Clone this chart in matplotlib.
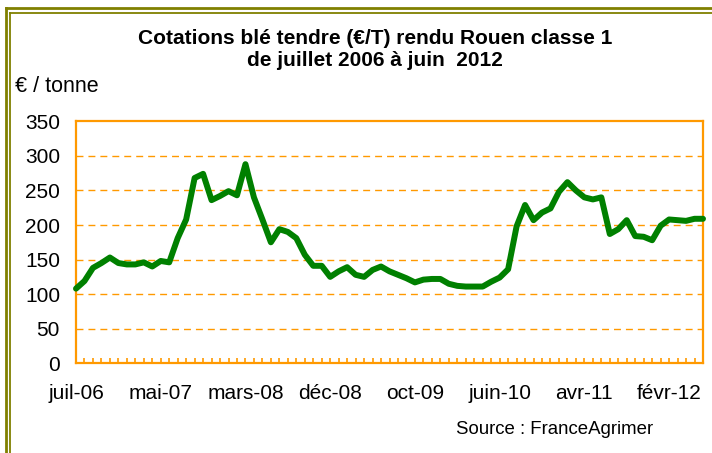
import matplotlib.pyplot as plt
from matplotlib.lines import Line2D

plt.rcParams['font.family'] = ['Liberation Sans', 'DejaVu Sans']

# Prix blé tendre rendu Rouen (EUR/t), juillet 2006 - juin 2012
prices = [108, 119, 138, 145, 153, 145, 143, 143, 146, 140,
          148, 146, 181, 208, 268, 274, 236, 242, 249, 243,
          288, 240, 208, 175, 194, 190, 181, 157, 141, 141,
          125, 133, 139, 128, 125, 135, 140, 133, 128, 123,
          117, 121, 122, 122, 115, 112, 111, 111, 111, 118,
          124, 136, 198, 229, 207, 218, 224, 248, 262, 250,
          240, 237, 240, 187, 194, 207, 184, 183, 178, 199,
          208, 207, 206, 209, 209]
label_pos = [0, 10, 20, 30, 40, 50, 60, 70]
label_txt = ['juil-06', 'mai-07', 'mars-08', 'déc-08',
             'oct-09', 'juin-10', 'avr-11', 'févr-12']
yticks = [0, 50, 100, 150, 200, 250, 300, 350]

orange = '#FF9900'
green = '#008000'
olive = '#808000'

fig = plt.figure(figsize=(7.12, 4.53), dpi=100)
ax = fig.add_axes([76 / 712, 1 - 363.3 / 453, 627 / 712, 242 / 453])

x = list(range(len(prices)))
ax.plot(x, prices, color=green, lw=4.3, solid_joinstyle='round',
        solid_capstyle='round', zorder=3, clip_on=False)

ax.set_xlim(0, len(prices) - 1)
ax.set_ylim(0, 350)
ax.set_yticks(yticks)
ax.set_xticks(label_pos)
ax.set_xticklabels(label_txt, fontsize=15)
ax.set_xticks(x, minor=True)
ax.tick_params(axis='y', length=0, pad=11.5, labelsize=15)
ax.tick_params(axis='x', which='both', direction='in', length=3.6,
               width=1.2, color=orange, pad=15)

for v in yticks[1:-1]:
    ax.axhline(v, color=orange, lw=1, linestyle=(0, (5, 3.6)), zorder=1)

for s in ax.spines.values():
    s.set_color(orange)
    s.set_linewidth(1.6)

# Titre et textes
fig.text(375 / 712, 1 - 29 / 453,
         'Cotations blé tendre (€/T) rendu Rouen classe 1\n'
         'de juillet 2006 à juin  2012',
         ha='center', va='top', fontsize=15, fontweight='bold')
fig.text(15 / 712, 1 - 86 / 453, '€ / tonne', ha='left', va='center',
         fontsize=15.5)
fig.text(456 / 712, 1 - 430 / 453, 'Source : FranceAgrimer', ha='left',
         va='center', fontsize=13.4)

# Cadre double (haut et gauche)
fig.add_artist(Line2D([5.5 / 712, 1], [1 - 8 / 453, 1 - 8 / 453],
                      color=olive, lw=2, transform=fig.transFigure))
fig.add_artist(Line2D([5.5 / 712, 5.5 / 712], [0, 1 - 8 / 453],
                      color=olive, lw=2, transform=fig.transFigure))
fig.add_artist(Line2D([10.3 / 712, 1], [1 - 13.2 / 453, 1 - 13.2 / 453],
                      color=olive, lw=1.3, transform=fig.transFigure))
fig.add_artist(Line2D([10.3 / 712, 10.3 / 712], [0, 1 - 13.2 / 453],
                      color=olive, lw=1.3, transform=fig.transFigure))

fig.savefig('out.png', dpi=100)
